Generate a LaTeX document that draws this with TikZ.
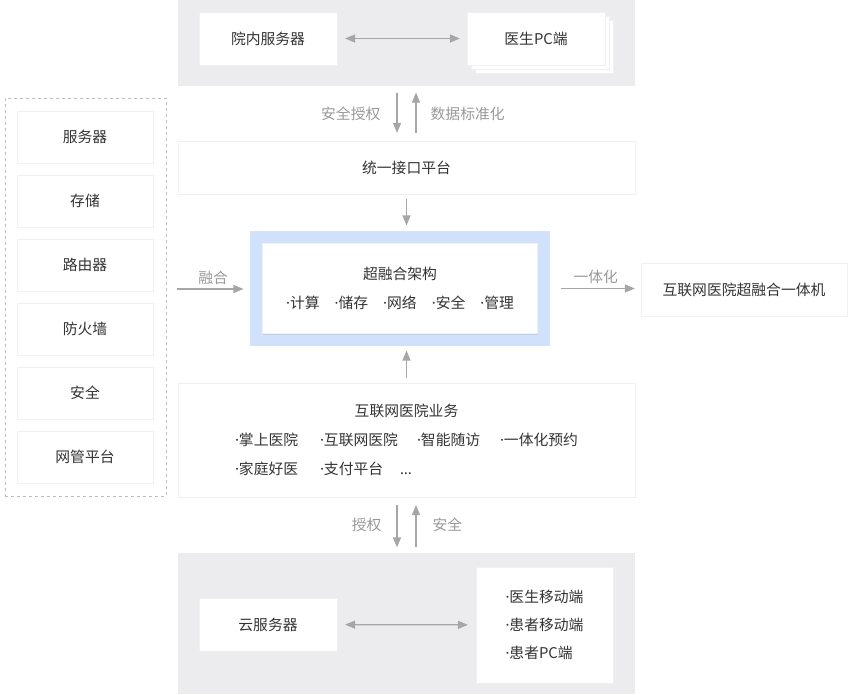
\documentclass[tikz,border=0pt]{standalone}
\usepackage{fontspec}
\setmainfont{Noto Sans CJK SC}
\newfontfamily\dotfont{Noto Sans}
\newcommand{\md}{{\dotfont ·}}
\usepackage{tikz}
\usetikzlibrary{arrows,shadows}
\definecolor{bandgray}{HTML}{ECECEE}
\definecolor{frameblue}{HTML}{CFE1FB}
\definecolor{arrgray}{HTML}{A6A6A6}
\definecolor{lblgray}{HTML}{999999}
\definecolor{txtgray}{HTML}{333333}
\definecolor{dashgray}{HTML}{BDBDBD}

\begin{document}
\begin{tikzpicture}[x=1pt,y=1pt,->,>=triangle 45,shorten >=1pt,node distance=64pt,
    font=\fontsize{14.8}{17.5}\selectfont,text=txtgray,draw=arrgray,line width=1.3pt]
                  \tikzstyle{box}=[fill=white,draw=black!6,line width=0.4pt,inner sep=0pt,
                    minimum height=53pt,drop shadow={shadow xshift=0.6pt,shadow yshift=-1.2pt,opacity=0.18}]
                  \tikzstyle{band}=[fill=bandgray,draw=none,inner sep=0pt]
                  \tikzstyle{lbl}=[text=lblgray,inner sep=0pt]

                  \useasboundingbox (0,0) rectangle (850,694);

                  % gray bands top and bottom
                  \node[band,minimum width=457pt,minimum height=86pt]  (T) at (406.5,651) {};
                  \node[band,minimum width=457pt,minimum height=141pt] (B) at (406.5,70.5) {};

                  \node[box,minimum width=138pt] (HS)  at (268,655.5) {院内服务器};
                  \node[box,minimum width=138pt] (PC3) at (544,647.5) {};
                  \node[box,minimum width=138pt] (PC2) at (540,651.5) {};
                  \node[box,minimum width=138pt] (PC)  at (536,655.5) {医生PC端};

                  \node[box,minimum width=457pt] (API) at (406.5,526.5) {统一接口平台};

                  \node[fill=frameblue,inner sep=0pt,minimum width=300pt,minimum height=115pt] (F) at (400,405.5) {};
                  \node[box,minimum width=275pt,minimum height=90pt,align=center] (CORE) at (F)
                      {超融合架构\\[11.5pt]\md 计算\hspace{15pt}\md 储存\hspace{15pt}\md 网络\hspace{15pt}\md 安全\hspace{15pt}\md 管理};

                  \node[box,minimum width=206pt] (ONE) at (744,404.5) {互联网医院超融合一体机};

                  \node[box,minimum width=457pt,minimum height=114pt] (BIZ) at (406.5,254)
                      {\def\arraystretch{1.66}\begin{tabular}{@{}p{85pt}@{}p{97pt}@{}p{83pt}@{}l@{}}
                        \multicolumn{4}{c}{互联网医院业务}\\
                        \md 掌上医院 & \md 互联网医院 & \md 智能随访 & \md 一体化预约\\
                        \md 家庭好医 & \md 支付平台\hspace{17pt}{\dotfont …} & & \\
                      \end{tabular}};

                  \node[box,minimum width=138pt] (CS) at (268,69.5) {云服务器};
                  \node[box,minimum width=137pt,minimum height=116pt,align=left] (MB) at (544.5,69)
                      {\md 医生移动端\\[10.5pt]\md 患者移动端\\[10.5pt]\md 患者PC端};

                  % hardware column on the left
                  \node[draw=dashgray,dashed,line width=0.8pt,minimum width=161pt,minimum height=398pt] (L) at (85.5,397) {};
                  \node[box,minimum width=136pt,minimum height=52pt] (L1) at (85,557) {服务器};
                  \node[box,minimum width=136pt,minimum height=52pt] (L2) [below of=L1] {存储};
                  \node[box,minimum width=136pt,minimum height=52pt] (L3) [below of=L2] {路由器};
                  \node[box,minimum width=136pt,minimum height=52pt] (L4) [below of=L3] {防火墙};
                  \node[box,minimum width=136pt,minimum height=52pt] (L5) [below of=L4] {安全};
                  \node[box,minimum width=136pt,minimum height=52pt] (L6) [below of=L5] {网管平台};

                  \coordinate (IN) at (177,405);

                  \path (HS) edge[<->,shorten <=8pt,shorten >=7pt] (PC)
                        ([xshift=-9.5pt]T.south) edge[shorten <=6pt,shorten >=8pt] node[lbl,left=16pt] {安全授权} ([xshift=-9.5pt]API.north)
                        ([xshift=9.5pt]API.north) edge[shorten <=8pt,shorten >=6pt] node[lbl,right=14pt] {数据标准化} ([xshift=9.5pt]T.south)
                        (API.south) edge[shorten <=5pt,shorten >=5pt] (API.south |- F.north)
                        (IN) edge[shorten >=6pt] node[lbl,above=4pt] {融合} (IN -| F.west)
                        (F.east) edge[shorten <=10pt,shorten >=6pt] node[lbl,above=4pt] {一体化} (F.east -| ONE.west)
                        (BIZ.north) edge[shorten <=5pt,shorten >=4pt] (BIZ.north |- F.south)
                        ([xshift=-9.5pt]BIZ.south) edge[shorten <=8pt,shorten >=5pt] node[lbl,left=15pt] {授权} ([xshift=-9.5pt]B.north)
                        ([xshift=9.5pt]B.north) edge[shorten <=5pt,shorten >=8pt] node[lbl,right=16pt] {安全} ([xshift=9.5pt]BIZ.south)
                        (CS) edge[<->,shorten <=8pt,shorten >=8pt] (MB);
                \end{tikzpicture}
\end{document}
